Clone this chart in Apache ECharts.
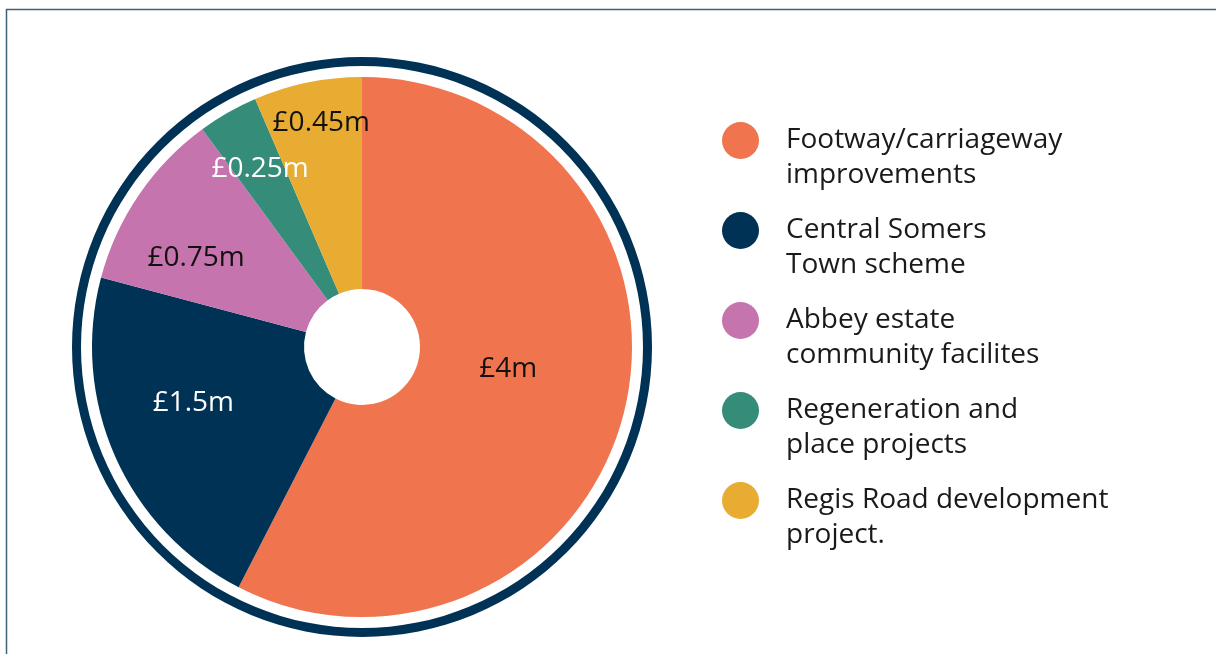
<!DOCTYPE html>
<html>
<head>
<meta charset="utf-8">
<script src="https://cdn.jsdelivr.net/npm/echarts@6/dist/echarts.min.js"></script>
<style>
  html, body { margin: 0; padding: 0; background: #fff; }
  #main { width: 1216px; height: 654px; }
</style>
</head>
<body>
<div id="main"></div>
<script>
var myChart = echarts.init(document.getElementById('main'));

// funding split, in £m
const names = [
  'Footway/carriageway\nimprovements',
  'Central Somers\nTown scheme',
  'Abbey estate\ncommunity facilites',
  'Regeneration and\nplace projects',
  'Regis Road development\nproject.'
];
const values = [4, 1.5, 0.75, 0.25, 0.45];
const valueLabels = ['£4m', '£1.5m', '£0.75m', '£0.25m', '£0.45m'];

const colors = ['#f0744d', '#003255', '#c574ae', '#358c78', '#e9ac33'];
const labelColors = ['#111', '#fff', '#111', '#fff', '#111'];
// nudge labels to where the original puts them
const labelOffsets = [[-16, -17], [-16, -12], [-28, 5], [-19, -33], [-7, -60]];

const FONT = '"Open Sans", sans-serif';

const pieData = values.map(function (v, i) {
  return {
    name: names[i],
    value: v,
    itemStyle: { color: colors[i] },
    label: {
      formatter: valueLabels[i],
      color: labelColors[i],
      offset: labelOffsets[i]
    }
  };
});

const option = {
  backgroundColor: '#fff',
  animation: false,
  graphic: [
    {
      type: 'polyline',
      shape: { points: [[6.5, 654], [6.5, 9.5], [1216, 9.5]] },
      style: { fill: null, stroke: '#3f6077', lineWidth: 1.5 },
      silent: true
    }
  ],
  legend: {
    orient: 'vertical',
    left: 722,
    top: 88,
    padding: 0,
    itemWidth: 37,
    itemHeight: 37,
    itemGap: -15,
    icon: 'circle',
    data: names,
    selectedMode: false,
    // blank first line so the dot lines up with the first text line
    formatter: function (name) {
      return '\n' + name;
    },
    textStyle: {
      fontFamily: FONT,
      fontSize: 28,
      color: '#1a1a1a',
      lineHeight: 35,
      padding: [0, 0, 0, 22]
    }
  },
  series: [
    {
      type: 'pie',
      center: [362, 347],
      radius: [58, 270],
      startAngle: 90,
      clockwise: true,
      silent: true,
      label: {
        show: true,
        position: 'inside',
        fontFamily: FONT,
        fontSize: 28
      },
      labelLine: { show: false },
      data: pieData
    },
    {
      // outer ring
      type: 'pie',
      center: [362, 347],
      radius: [281, 290],
      silent: true,
      label: { show: false },
      labelLine: { show: false },
      itemStyle: { color: '#003255' },
      data: [{ value: 1, name: 'ring' }]
    }
  ]
};

myChart.setOption(option);
</script>
</body>
</html>
